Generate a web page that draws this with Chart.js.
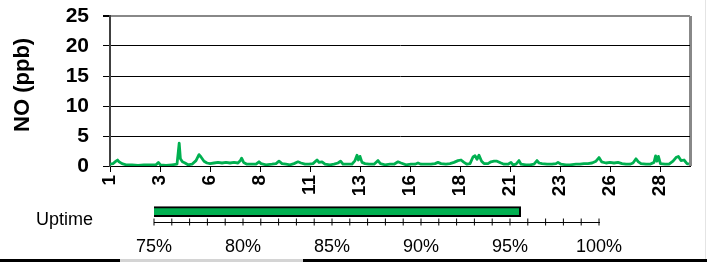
<!DOCTYPE html>
<html>
<head>
<meta charset="utf-8">
<script src="https://cdn.jsdelivr.net/npm/chart.js@4/dist/chart.umd.min.js"></script>
<style>
  body { margin: 0; background: #fff; }
  #wrap { position: relative; width: 707px; height: 265px; overflow: hidden; }
  #noChart { position: absolute; left: 0; top: 0; }
  #uptimeChart { position: absolute; left: 0; top: 195px; }
  .edge { position: absolute; }
</style>
</head>
<body>
<div id="wrap">
  <canvas id="noChart" width="707" height="205"></canvas>
  <canvas id="uptimeChart" width="707" height="70"></canvas>
  <div class="edge" style="left:0;top:259px;width:707px;height:3px;background:#000"></div>
  <div class="edge" style="left:120px;top:259px;width:183px;height:3px;background:#d4d4d4"></div>
  <div class="edge" style="left:705px;top:0;width:1px;height:259px;background:#e4e4e4"></div>
</div>
<script>
// NO trace, day of month vs ppb
const days = [1.00,1.15,1.30,1.38,1.45,1.60,1.80,2.10,2.40,2.70,3.00,3.30,3.42,3.52,3.80,4.10,4.35,4.42,4.46,4.52,
  4.62,4.75,4.90,5.10,5.30,5.45,5.55,5.70,5.85,6.00,6.20,6.40,6.60,6.80,7.00,7.20,7.40,7.52,7.58,7.68,
  7.85,8.10,8.30,8.45,8.55,8.80,9.10,9.30,9.45,9.60,9.80,10.00,10.20,10.40,10.55,10.75,10.95,11.15,11.35,11.45,
  11.60,11.75,12.00,12.20,12.40,12.53,12.65,12.90,13.10,13.25,13.35,13.42,13.50,13.60,13.75,13.95,14.20,14.40,14.52,14.75,
  15.00,15.20,15.40,15.55,15.80,16.05,16.25,16.40,16.55,16.80,17.05,17.25,17.40,17.55,17.80,18.00,18.20,18.40,18.55,18.70,
  18.85,19.00,19.15,19.25,19.35,19.45,19.58,19.70,19.90,20.05,20.20,20.35,20.55,20.70,20.90,21.05,21.15,21.30,21.45,21.55,
  21.80,22.00,22.20,22.35,22.45,22.60,22.85,23.10,23.30,23.40,23.55,23.80,24.00,24.30,24.50,24.70,24.90,25.10,25.30,25.45,
  25.58,25.80,26.00,26.20,26.40,26.60,26.80,27.00,27.15,27.30,27.42,27.55,27.80,28.00,28.20,28.28,28.35,28.42,28.52,28.75,
  28.95,29.15,29.30,29.42,29.55,29.70,29.85,29.95];
const noValues = [0.3,0.4,0.8,1.0,0.7,0.4,0.2,0.2,0.1,0.2,0.2,0.2,0.6,0.2,0.1,0.2,0.3,2.5,3.8,1.2,
  0.7,0.5,0.2,0.3,0.9,1.9,1.5,0.8,0.5,0.4,0.5,0.6,0.5,0.6,0.5,0.6,0.5,0.9,1.3,0.6,
  0.3,0.3,0.3,0.7,0.4,0.2,0.3,0.4,0.8,0.4,0.3,0.2,0.4,0.7,0.5,0.3,0.3,0.4,1.0,0.6,
  0.7,0.3,0.2,0.3,0.5,0.8,0.3,0.3,0.3,0.9,1.8,1.0,1.6,0.6,0.4,0.3,0.3,0.9,0.4,0.2,
  0.3,0.3,0.7,0.5,0.2,0.3,0.3,0.5,0.3,0.3,0.3,0.4,0.6,0.4,0.3,0.4,0.6,0.9,1.0,0.6,
  0.3,0.4,1.5,1.7,1.1,1.8,0.8,0.4,0.4,0.7,0.8,0.8,0.5,0.3,0.3,0.6,0.2,0.3,0.9,0.3,
  0.2,0.2,0.3,0.9,0.5,0.4,0.3,0.3,0.4,0.6,0.3,0.2,0.2,0.3,0.3,0.4,0.4,0.5,0.8,1.4,
  0.7,0.5,0.6,0.5,0.6,0.4,0.3,0.3,0.5,1.2,0.7,0.4,0.3,0.3,0.6,1.7,0.8,1.6,0.4,0.3,
  0.3,0.8,1.4,1.6,0.9,1.0,0.4,0.3];

// x tick positions (every 2.5 days) and the labels printed under them
const dayTicks = [1, 3.5, 6, 8.5, 11, 13.5, 16, 18.5, 21, 23.5, 26, 28.5, 30];
const dayTickLabels = ['1','3','6','8','11','13','16','18','21','23','26','28',''];

// uptime bar
const uptimeLabel = 'Uptime';
const uptimeValue = 95.6;
const uptimeMarks = [75,76,77,78,79,80,81,82,83,84,85,86,87,88,89,90,91,92,93,94,95,96,97,98,99,100];

const green = '#00b050';
const fontFam = "'Liberation Sans', Arial, sans-serif";

const noChart = new Chart(document.getElementById('noChart'), {
  type: 'line',
  data: {
    datasets: [{
      data: days.map((d, i) => ({ x: d, y: noValues[i] })),
      borderColor: green,
      borderWidth: 2.8,
      borderJoinStyle: 'round',
      pointRadius: 0,
      tension: 0
    }]
  },
  options: {
    responsive: false,
    animation: false,
    layout: { padding: { left: 0, top: 16, right: 17, bottom: 0 } },
    plugins: { legend: { display: false }, tooltip: { enabled: false } },
    scales: {
      x: {
        type: 'linear',
        min: 1,
        max: 30,
        afterBuildTicks: s => { s.ticks = dayTicks.map(v => ({ value: v })) },
        afterFit: s => { s.height = 39; s.paddingLeft = 0; s.paddingRight = 0 },
        ticks: {
          autoSkip: false,
          minRotation: 90,
          maxRotation: 90,
          padding: 3,
          color: '#000',
          font: { family: fontFam, size: 19, weight: 'bold' },
          callback: (v, i) => dayTickLabels[i]
        },
        grid: {
          drawOnChartArea: true,
          color: c => (c.tick && c.tick.value === 30) ? '#888' : 'rgba(0,0,0,0)',
          lineWidth: c => (c.tick && c.tick.value === 30) ? 3 : 1,
          tickColor: c => (c.tick && c.tick.value === 30) ? 'rgba(0,0,0,0)' : '#000',
          tickLength: 6
        },
        border: { color: '#000', width: 1 }
      },
      y: {
        min: 0,
        max: 25,
        afterFit: s => { s.width = 110; s.paddingTop = 0; s.paddingBottom = 0 },
        ticks: {
          stepSize: 5,
          autoSkip: false,
          padding: 14,
          color: '#000',
          font: { family: fontFam, size: 21, weight: 'bold' }
        },
        grid: {
          color: c => c.tick.value === 25 ? '#888' : '#000',
          lineWidth: c => c.tick.value === 25 ? 2 : 1,
          tickColor: '#000',
          tickLength: 7
        },
        border: { color: '#404040', width: 2 },
        title: {
          display: true,
          text: '\u00a0\u00a0NO (ppb)',
          color: '#000',
          padding: { top: 10, bottom: 0 },
          font: { family: fontFam, size: 22, weight: 'bold' }
        }
      }
    }
  }
});

const uptimeChart = new Chart(document.getElementById('uptimeChart'), {
  type: 'bar',
  data: {
    datasets: [{
      data: [{ x: uptimeValue, y: 0.52 }],
      backgroundColor: green,
      borderColor: '#000',
      borderWidth: 2,
      borderSkipped: false,
      barThickness: 10
    }, {
      type: 'scatter',
      data: uptimeMarks.map(v => ({ x: v, y: 0 })),
      pointStyle: 'line',
      rotation: 90,
      radius: 3.5,
      borderColor: '#000',
      borderWidth: 1,
      clip: false
    }]
  },
  options: {
    indexAxis: 'y',
    responsive: false,
    animation: false,
    layout: { padding: { left: 0, top: 7, right: 108, bottom: 0 } },
    plugins: { legend: { display: false }, tooltip: { enabled: false } },
    scales: {
      x: {
        type: 'linear',
        min: 75,
        max: 100,
        afterFit: s => { s.height = 43 },
        ticks: {
          stepSize: 5,
          padding: 6,
          color: '#000',
          font: { family: fontFam, size: 18 },
          callback: v => v + '%'
        },
        grid: { display: false },
        border: { color: '#000', width: 1 }
      },
      y: {
        type: 'linear',
        offset: false,
        min: 0,
        max: 1,
        afterFit: s => { s.width = 154; s.paddingTop = 0; s.paddingBottom = 0 },
        afterBuildTicks: s => { s.ticks = [{ value: 0.1 }] },
        ticks: {
          padding: 53,
          color: '#000',
          font: { family: fontFam, size: 18 },
          callback: () => uptimeLabel
        },
        grid: { display: false, offset: false },
        border: { display: false }
      }
    }
  }
});
</script>
</body>
</html>
